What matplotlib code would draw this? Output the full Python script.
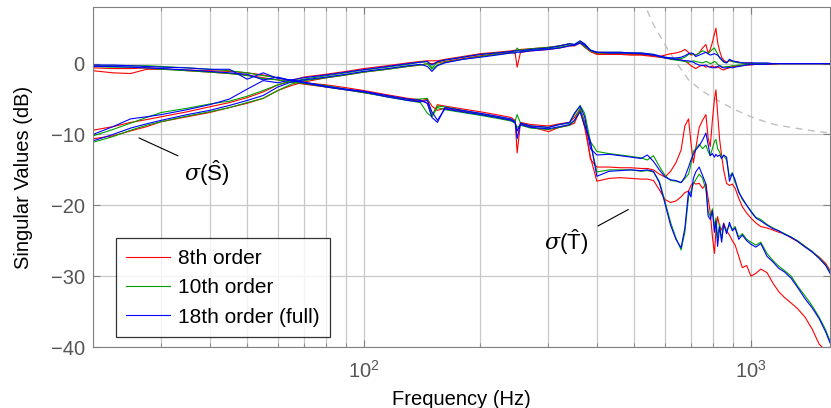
import numpy as np
import matplotlib
matplotlib.use("Agg")
import matplotlib.pyplot as plt
from matplotlib.ticker import LogLocator, NullFormatter, FixedLocator

plt.rcParams['font.family'] = ['Liberation Sans', 'DejaVu Sans']
plt.rcParams['mathtext.fontset'] = 'custom'
plt.rcParams['mathtext.rm'] = 'Liberation Sans'
plt.rcParams['mathtext.sf'] = 'Liberation Sans'
plt.rcParams['mathtext.it'] = 'DejaVu Serif:italic'

# frequency grid (Hz)
freq = [20, 22.5, 25, 27.5, 30, 35, 40, 45, 50, 55, 60,
        65, 70, 80, 90, 100, 115, 130, 140, 146, 150, 155,
        162, 180, 200, 220, 240, 246, 249, 254, 270, 300, 320,
        340, 350, 362, 372, 385, 400, 430, 460, 490, 520, 540,
        560, 580, 600, 620, 640, 660, 675, 690, 700, 710, 720,
        735, 750, 765, 775, 785, 795, 805, 812, 820, 830, 840,
        850, 865, 880, 895, 910, 930, 950, 975, 1000, 1030, 1060,
        1100, 1140, 1180, 1220, 1270, 1320, 1380, 1440, 1500, 1560, 1600]

# 8th order model
s1_8 = [-9.4, -8.9, -8.3, -7.9, -7.5, -6.8, -6.1, -5.5, -4.8, -4.0, -3.0,
        -2.4, -1.9, -1.5, -1.1, -0.7, -0.3, 0.1, 0.3, 0.4, 0.4, 0.4,
        0.6, 1.0, 1.4, 1.6, 1.8, 1.9, 1.9, 2.0, 2.1, 2.3, 2.5,
        2.8, 2.6, 3.1, 2.6, 1.7, 1.4, 1.4, 1.4, 1.3, 1.3, 1.2,
        1.1, 1.0, 1.2, 1.4, 1.5, 1.7, 2.0, 1.6, 1.2, 1.3, 1.2,
        1.5, 2.2, 2.7, 1.5, 2.0, 3.0, 4.2, 5.0, 3.0, 1.8, 0.9,
        0.5, 0.2, 0.4, 0.3, 0.3, 0.2, 0.1, 0.1, 0.1, 0.0, 0.0,
        0.0, 0.0, 0.0, 0.0, 0.0, 0.0, 0.0, 0.0, 0.0, 0.0, 0.0]
s2_8 = [-10.6, -10.2, -9.5, -8.9, -8.2, -7.5, -6.9, -6.2, -5.6, -4.9, -3.8,
        -3.1, -2.6, -2.0, -1.6, -1.2, -0.8, -0.4, -0.2, 0.0, 0.0, 0.1,
        0.3, 0.7, 1.1, 1.4, 1.6, 1.5, -0.5, 1.6, 1.8, 2.0, 2.2,
        2.5, 2.5, 2.9, 2.3, 1.7, 1.3, 1.3, 1.3, 1.2, 1.2, 1.1,
        1.0, 0.9, 0.8, 0.7, 0.6, 0.5, 0.4, 0.0, -0.3, -0.5, -0.7,
        -0.4, -0.2, -0.5, -0.4, -0.5, -0.3, -0.6, -0.4, -0.5, -0.6, -0.8,
        -0.9, -0.7, -0.6, -0.4, -0.4, -0.3, -0.3, -0.2, -0.2, -0.1, -0.1,
        -0.1, -0.1, 0.0, 0.0, 0.0, 0.0, 0.0, 0.0, 0.0, 0.0, 0.0]
t1_8 = [-1.0, -1.3, -1.4, -0.8, -0.8, -0.9, -1.0, -1.1, -1.3, -1.6, -2.0,
        -2.4, -2.7, -3.0, -3.4, -3.8, -4.4, -4.9, -5.1, -5.6, -7.4, -5.8,
        -6.0, -6.4, -6.8, -7.2, -7.6, -8.0, -12.6, -8.3, -8.6, -8.8, -8.5,
        -8.3, -7.6, -6.4, -8.2, -13.5, -14.6, -14.6, -14.7, -14.7, -14.8, -14.8,
        -15.0, -15.6, -16.0, -15.2, -14.0, -12.2, -8.8, -7.8, -11.2, -14.0, -12.0,
        -9.0, -8.0, -7.2, -10.5, -11.7, -8.0, -5.0, -3.7, -7.0, -10.7, -13.0,
        -15.0, -16.9, -17.2, -17.0, -17.6, -19.0, -20.2, -21.1, -21.8, -22.5, -23.0,
        -23.2, -23.5, -23.8, -24.0, -24.6, -25.1, -25.8, -26.6, -27.3, -28.2, -29.2]
t2_8 = [-0.6, -0.7, -0.7, -0.6, -0.7, -1.0, -1.2, -1.4, -1.6, -2.0, -2.3,
        -2.6, -2.9, -3.3, -3.7, -4.1, -4.6, -5.1, -5.3, -5.0, -6.0, -6.6,
        -6.3, -6.7, -7.1, -7.5, -8.0, -8.3, -9.5, -8.5, -8.9, -9.6, -9.0,
        -8.7, -8.4, -6.6, -9.0, -13.2, -16.6, -16.2, -16.1, -16.2, -16.3, -16.3,
        -16.5, -17.8, -19.2, -19.6, -19.4, -18.8, -18.2, -18.0, -17.2, -16.8, -17.0,
        -16.9, -17.6, -17.0, -19.0, -21.0, -24.4, -26.8, -23.5, -21.6, -23.0, -23.5,
        -22.5, -23.6, -24.2, -25.0, -25.6, -27.2, -28.8, -28.5, -30.0, -29.6, -29.0,
        -29.5, -31.0, -32.2, -33.0, -33.8, -34.6, -35.8, -37.5, -39.6, -40.5, -41.0]

# 10th order model
s1_10 = [-10.2, -9.3, -8.4, -7.6, -6.9, -6.3, -5.7, -5.3, -4.6, -3.8, -3.0,
         -2.5, -2.2, -1.7, -1.3, -0.9, -0.5, -0.1, 0.2, 0.3, -0.6, 0.2,
         0.5, 0.9, 1.3, 1.5, 1.7, 1.8, 1.8, 1.9, 2.1, 2.3, 2.5,
         2.8, 2.7, 3.2, 2.7, 1.8, 1.6, 1.6, 1.6, 1.5, 1.5, 1.4,
         1.3, 1.0, 0.9, 0.8, 0.7, 0.7, 0.9, 1.3, 1.4, 1.3, 1.2,
         1.5, 1.8, 1.6, 1.4, 1.7, 2.0, 2.2, 1.8, 1.4, 0.8, 0.5,
         0.2, 0.1, 0.5, 0.3, 0.2, 0.1, 0.1, 0.0, 0.0, 0.0, 0.0,
         0.0, 0.0, 0.0, 0.0, 0.0, 0.0, 0.0, 0.0, 0.0, 0.0, 0.0]
s2_10 = [-11.1, -10.3, -9.4, -8.7, -8.2, -7.4, -6.8, -6.2, -5.5, -4.9, -3.8,
         -2.9, -2.4, -2.0, -1.6, -1.2, -0.8, -0.4, -0.2, 0.0, -0.8, -0.2,
         0.2, 0.6, 1.0, 1.3, 1.5, 1.6, 2.2, 1.7, 1.9, 2.1, 2.3,
         2.6, 2.6, 3.0, 2.4, 1.8, 1.5, 1.5, 1.5, 1.4, 1.4, 1.3,
         1.2, 1.0, 0.8, 0.6, 0.5, 0.4, 0.3, 0.2, 0.3, 0.4, 0.3,
         0.2, 0.1, 0.3, 0.2, 0.0, 0.1, 0.3, 0.2, -0.1, -0.3, -0.4,
         -0.5, -0.4, -0.4, -0.3, -0.3, -0.2, -0.2, -0.1, -0.1, 0.0, 0.0,
         0.0, 0.0, 0.0, 0.0, 0.0, 0.0, 0.0, 0.0, 0.0, 0.0, 0.0]
t1_10 = [-0.3, -0.3, -0.3, -0.3, -0.4, -0.6, -0.8, -1.0, -1.3, -1.7, -2.0,
         -2.4, -2.7, -3.1, -3.6, -4.0, -4.6, -5.1, -5.0, -4.9, -7.4, -6.0,
         -6.1, -6.6, -7.1, -7.5, -7.9, -8.1, -7.2, -8.4, -8.8, -9.0, -8.6,
         -8.4, -7.2, -5.9, -7.0, -11.0, -12.4, -12.7, -12.9, -13.1, -13.3, -13.6,
         -13.0, -14.5, -15.8, -16.5, -16.6, -16.8, -16.2, -15.6, -14.2, -12.4, -12.0,
         -11.4, -12.0, -11.5, -12.4, -13.0, -12.0, -11.0, -10.7, -12.0, -12.5, -13.2,
         -13.0, -13.6, -16.0, -15.4, -16.8, -18.0, -19.2, -20.0, -20.8, -21.7, -22.0,
         -22.7, -23.2, -23.6, -24.0, -24.5, -25.0, -25.8, -26.5, -27.4, -28.4, -29.4]
t2_10 = [-0.4, -0.5, -0.5, -0.6, -0.8, -1.0, -1.2, -1.4, -1.7, -2.1, -2.3,
         -2.6, -2.8, -3.3, -3.7, -4.1, -4.7, -5.2, -5.5, -7.0, -7.5, -6.2,
         -6.5, -6.9, -7.3, -7.7, -8.1, -8.4, -9.0, -8.7, -9.1, -9.3, -9.0,
         -8.7, -8.1, -6.3, -8.5, -11.2, -15.3, -15.0, -15.0, -15.0, -15.2, -15.1,
         -15.3, -16.6, -19.5, -22.4, -24.6, -26.3, -23.8, -18.8, -18.0, -17.0, -16.4,
         -15.6, -16.2, -17.8, -20.8, -21.6, -20.5, -23.0, -21.8, -24.6, -22.6, -24.8,
         -22.8, -23.6, -22.8, -23.4, -23.0, -24.5, -24.0, -24.8, -25.2, -25.6, -25.2,
         -26.8, -27.8, -28.6, -29.2, -30.0, -31.4, -32.8, -34.2, -35.8, -37.6, -39.2]

# 18th order (full) model
s1_18 = [-10.0, -8.9, -7.8, -7.5, -7.2, -6.5, -5.8, -5.0, -3.6, -2.4, -2.7,
         -2.3, -2.0, -1.6, -1.2, -0.85, -0.4, 0.0, 0.2, 0.3, -0.2, 0.3,
         0.5, 0.9, 1.3, 1.5, 1.7, 1.8, 1.8, 1.8, 2.0, 2.2, 2.5,
         2.8, 2.7, 3.2, 2.8, 1.9, 1.6, 1.6, 1.6, 1.5, 1.5, 1.4,
         1.3, 1.1, 0.9, 0.8, 0.8, 0.9, 1.1, 1.4, 1.5, 1.4, 1.0,
         1.2, 1.4, 1.6, 1.4, 1.2, 1.3, 1.4, 1.3, 1.2, 0.9, 0.6,
         0.3, 0.1, 0.6, 0.4, 0.3, 0.2, 0.1, 0.1, 0.1, 0.1, 0.1,
         0.1, 0.0, 0.0, 0.0, 0.0, 0.0, 0.0, 0.0, 0.0, 0.0, 0.0]
s2_18 = [-10.9, -10.0, -9.1, -8.5, -8.0, -7.2, -6.6, -5.9, -5.2, -4.5, -3.3,
         -2.6, -2.3, -1.9, -1.5, -1.1, -0.7, -0.3, -0.1, -0.4, -1.1, -0.3,
         0.1, 0.6, 0.9, 1.2, 1.5, 1.5, 1.6, 1.6, 1.8, 2.0, 2.2,
         2.5, 2.6, 2.9, 2.6, 1.9, 1.6, 1.5, 1.5, 1.5, 1.4, 1.3,
         1.2, 1.0, 0.8, 0.7, 0.6, 0.5, 0.4, 0.4, 0.3, 0.2, 0.0,
         -0.2, -0.3, -0.2, -0.4, -0.5, -0.6, -0.5, -0.6, -0.4, -0.3, -0.5,
         -0.6, -0.6, -0.5, -0.6, -0.5, -0.4, -0.3, -0.2, -0.1, -0.1, -0.1,
         -0.1, 0.0, 0.0, 0.0, 0.0, 0.0, 0.0, 0.0, 0.0, 0.0, 0.0]
t1_18 = [-0.2, -0.2, -0.3, -0.4, -0.5, -0.6, -0.8, -0.8, -2.2, -1.3, -2.1,
         -2.3, -2.6, -3.2, -3.6, -3.9, -4.5, -5.0, -5.2, -5.6, -7.6, -8.3,
         -6.2, -6.6, -7.0, -7.4, -7.8, -8.2, -10.6, -8.4, -8.8, -9.0, -8.6,
         -8.3, -7.0, -6.0, -7.5, -12.0, -12.9, -12.8, -13.0, -13.2, -13.4, -12.9,
         -13.8, -15.0, -16.0, -16.4, -16.5, -16.8, -16.0, -14.6, -13.6, -12.8, -12.2,
         -11.6, -10.8, -9.8, -11.4, -13.0, -12.7, -13.2, -12.8, -13.1, -12.9, -13.4,
         -12.9, -13.2, -16.6, -15.5, -16.4, -18.2, -19.0, -20.0, -20.9, -21.8, -22.2,
         -22.8, -23.3, -23.6, -24.1, -24.5, -25.1, -25.9, -26.6, -27.5, -28.5, -29.6]
t2_18 = [-0.4, -0.4, -0.5, -0.6, -0.7, -0.9, -1.1, -1.3, -1.5, -2.3, -1.9,
         -2.4, -2.7, -3.3, -3.7, -4.0, -4.7, -5.2, -5.4, -5.2, -6.8, -8.0,
         -6.4, -6.8, -7.2, -7.6, -8.0, -8.3, -9.5, -8.6, -9.0, -9.2, -8.9,
         -8.6, -8.0, -6.8, -8.8, -11.0, -15.9, -15.2, -15.1, -15.0, -15.1, -15.0,
         -15.2, -16.8, -19.8, -22.8, -24.8, -26.0, -23.2, -18.0, -18.8, -16.2, -15.3,
         -14.6, -15.8, -17.0, -21.5, -22.0, -20.8, -23.8, -22.2, -25.8, -23.0, -25.2,
         -22.6, -24.0, -22.4, -23.6, -23.2, -24.8, -24.2, -25.0, -25.5, -25.9, -25.4,
         -27.2, -28.0, -28.9, -29.4, -30.3, -31.6, -33.2, -34.5, -36.0, -37.9, -39.4]

# dashed bound
bound_f = [520, 560, 610, 650, 690, 750, 815, 900, 1020, 1150, 1300, 1450, 1600]
bound_v = [9.5, 5.5, 2.0, -0.3, -2.3, -3.9, -5.1, -6.4, -7.7, -8.6, -9.1, -9.5, -9.8]

models = [("8th order", "#ff0000", [s1_8, s2_8, t1_8, t2_8]),
          ("10th order", "#00a000", [s1_10, s2_10, t1_10, t2_10]),
          ("18th order (full)", "#0000ff", [s1_18, s2_18, t1_18, t2_18])]

fig = plt.figure(figsize=(8.31, 4.08), dpi=100)
ax = fig.add_subplot(111)
fig.subplots_adjust(left=0.112, right=0.9988, top=0.983, bottom=0.1495)

gray = '#808080'
ax.plot(bound_f, bound_v, color='#c0c0c0', lw=1.0, ls=(0, (5, 4)))
for label, color, curves in models:
    for k, vals in enumerate(curves):
        ax.plot(freq, vals, color=color, lw=0.8, label=label if k == 0 else None)

ax.set_xscale('log')
ax.set_xlim(20, 1600)
ax.set_ylim(-40, 8)
ax.yaxis.set_major_locator(FixedLocator([-40, -30, -20, -10, 0]))
ax.xaxis.set_major_locator(LogLocator(base=10))
ax.xaxis.set_minor_locator(LogLocator(base=10, subs=np.arange(2, 10)))
ax.xaxis.set_minor_formatter(NullFormatter())

ax.grid(True, which='major', color='#c8c8c8', lw=0.9)
ax.grid(True, which='minor', axis='x', color='#c8c8c8', lw=0.9)
ax.set_axisbelow(True)
for sp in ax.spines.values():
    sp.set_color(gray)
ax.tick_params(which='both', direction='in', top=True, right=True, color=gray,
               labelcolor='#555555', labelsize=14.5)
ax.tick_params(which='major', length=5)
ax.tick_params(axis='x', which='major', pad=9)
ax.tick_params(axis='y', which='major', pad=6)
ax.tick_params(which='minor', length=3)

ax.set_xlabel("Frequency (Hz)", fontsize=14.5, labelpad=6)
ax.set_ylabel("Singular Values (dB)", fontsize=14.5, labelpad=13)

# annotations
ax.plot([26.3, 33.1], [-10.5, -13.0], color='black', lw=0.8)
ax.text(39.4, -15.4, r'$\sigma(\hat{\mathsf{S}})$', fontsize=16, ha='center', va='center')
ax.plot([403, 482], [-22.9, -20.6], color='black', lw=0.8)
ax.text(334, -25.2, r'$\sigma(\hat{\mathsf{T}})$', fontsize=16, ha='center', va='center')

leg = ax.legend(loc='lower left', bbox_to_anchor=(0.031, 0.029), borderaxespad=0,
                fontsize=15, frameon=True, fancybox=False, edgecolor='black',
                handlelength=2.1, handletextpad=0.4, labelspacing=0.5,
                borderpad=0.5)
leg.get_frame().set_linewidth(0.9)

fig.savefig("out.png", dpi=100)
